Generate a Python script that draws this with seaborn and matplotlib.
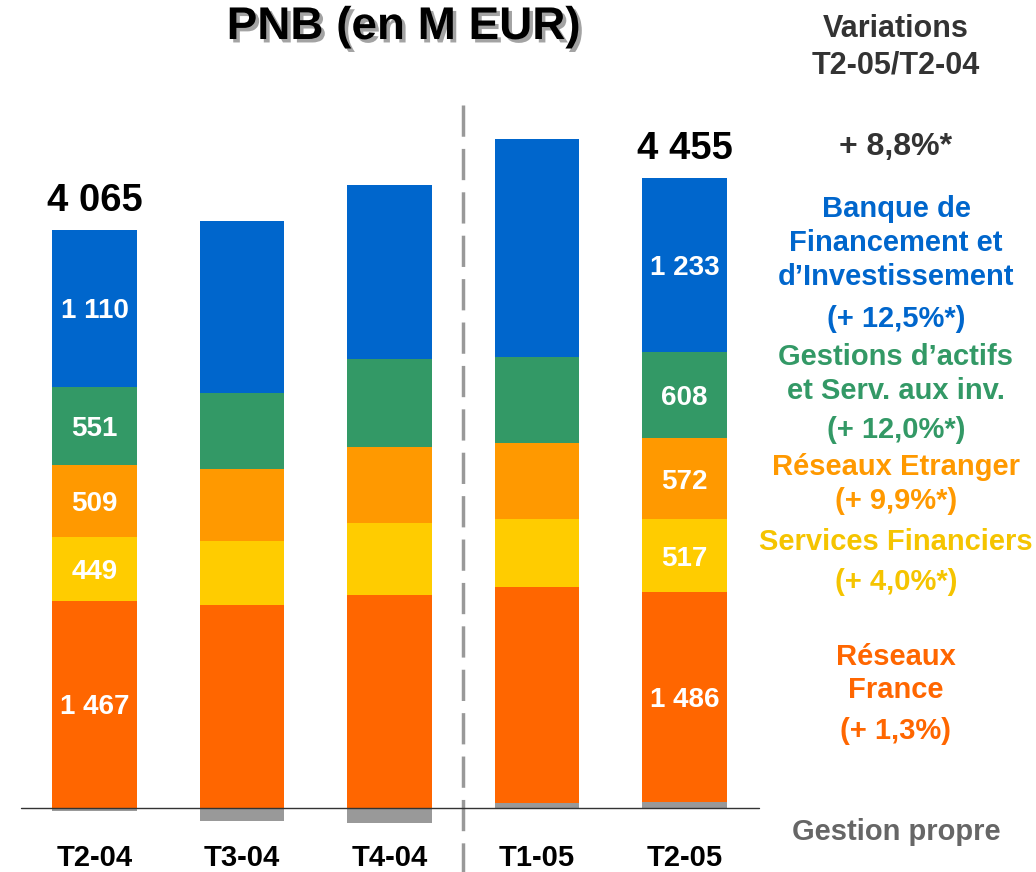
import matplotlib
matplotlib.use('Agg')
import matplotlib.pyplot as plt
import matplotlib.patheffects as pe
import pandas as pd
import seaborn as sns

# Data (M EUR)
quarters = ['T2-04', 'T3-04', 'T4-04', 'T1-05', 'T2-05']
gestion_propre = [-21, -90, -104, 33, 39]
reseaux_france = [1467, 1436, 1506, 1530, 1486]
services_financiers = [449, 453, 509, 481, 517]
reseaux_etranger = [509, 509, 537, 537, 572]
gestions_actifs = [551, 537, 622, 608, 608]
bfi = [1110, 1216, 1230, 1542, 1233]
labelled = ['T2-04', 'T2-05']

# right-hand side texts
variation_total = '+ 8,8%*'
legend_lines = [
    ('Banque de', '#0066CC'), ('Financement et', '#0066CC'), ('d\u2019Investissement', '#0066CC'),
    ('(+ 12,5%*)', '#0066CC'),
    ('Gestions d\u2019actifs', '#339966'), ('et Serv. aux inv.', '#339966'), ('(+ 12,0%*)', '#339966'),
    ('R\u00e9seaux Etranger', '#FF9900'), ('(+ 9,9%*)', '#FF9900'),
    ('Services Financiers', '#F5C400'), ('(+ 4,0%*)', '#F5C400'),
    ('R\u00e9seaux', '#FF6600'), ('France', '#FF6600'), ('(+ 1,3%)', '#FF6600'),
    ('Gestion propre', '#666666'),
]
legend_baselines = [217, 251, 285, 327, 365, 399, 438, 475, 509, 550, 590, 665, 698, 739, 840]

sns.set_style('white')
plt.rcParams['font.family'] = ['Liberation Sans', 'DejaVu Sans']
plt.rcParams['font.weight'] = 'bold'

df = pd.DataFrame({
    'trimestre': quarters,
    'Gestion propre': gestion_propre,
    'Réseaux France': reseaux_france,
    'Services Financiers': services_financiers,
    'Réseaux Etranger': reseaux_etranger,
    'Gestions d\'actifs': gestions_actifs,
    'BFI': bfi,
})
layers = ['Réseaux France', 'Services Financiers', 'Réseaux Etranger', 'Gestions d\'actifs', 'BFI']
colors = {'Réseaux France': '#FF6600', 'Services Financiers': '#FFCC00',
          'Réseaux Etranger': '#FF9900', 'Gestions d\'actifs': '#339966',
          'BFI': '#0066CC', 'Gestion propre': '#999999'}

W, H = 1036, 872
fig = plt.figure(figsize=(W / 100, H / 100), dpi=100)
ax = fig.add_axes([0, 0, 1, 1])

# pixel mapping
x0, dx = 94.5, 147.5
y0, sy = 808, 0.1414

# cumulative stacks (positive part of gestion propre sits below Réseaux France)
cum = df['Gestion propre'].clip(lower=0).astype(float)
bottoms, tops = {}, {}
for name in layers:
    bottoms[name] = cum.copy()
    cum = cum + df[name]
    tops[name] = cum.copy()

for name in reversed(layers):
    sns.barplot(x=df['trimestre'], y=tops[name], color=colors[name], width=0.576,
                saturation=1, errorbar=None, linewidth=0, ax=ax)
sns.barplot(x=df['trimestre'], y=df['Gestion propre'], color=colors['Gestion propre'],
            width=0.576, saturation=1, errorbar=None, linewidth=0, ax=ax)

# segment labels and totals for T2-04 and T2-05
for i, q in enumerate(quarters):
    if q not in labelled:
        continue
    for name in layers:
        v = df.loc[i, name]
        mid = (bottoms[name][i] + tops[name][i]) / 2
        ax.annotate(f'{v:,}'.replace(',', ' '), (i, mid), xytext=(0, -7), textcoords='offset points',
                    ha='center', va='baseline', color='white', fontsize=20, fontweight='bold')
    total = df.loc[i, layers].sum() + df.loc[i, 'Gestion propre']
    ax.annotate(f'{total:,}'.replace(',', ' '), (i, tops['BFI'][i]), xytext=(0, 14),
                textcoords='offset points', ha='center', va='baseline', color='black',
                fontsize=27.5, fontweight='bold')

# baseline and separator
ax.plot([-0.5, 4.505], [0, 0], color='#333333', lw=1, zorder=5)
ybot = -(H - y0) / sy
ax.plot([2.5, 2.5], [(y0 - 105) / sy, ybot], color='#999999', lw=2.5, dashes=(9, 3.5), zorder=1)

ax.set_xlim(-x0 / dx, (W - x0) / dx)
ax.set_ylim(ybot, y0 / sy)
ax.axis('off')

# category labels
for i, q in enumerate(quarters):
    ax.text(i, -(866 - y0) / sy, q, ha='center', va='baseline', fontsize=21,
            fontweight='bold', color='black')

def fy(y):
    return 1 - y / H

fig.text(404 / W, fy(39), 'PNB (en M EUR)', ha='center', va='baseline', fontsize=33,
         fontweight='bold', color='black',
         path_effects=[pe.withSimplePatchShadow(offset=(2.5, -2.5), shadow_rgbFace='#999999', alpha=0.9)])

xr = 896 / W
fig.text(xr, fy(37), 'Variations', ha='center', va='baseline', fontsize=22, fontweight='bold', color='#333333')
fig.text(xr, fy(73), 'T2-05/T2-04', ha='center', va='baseline', fontsize=22, fontweight='bold', color='#333333')
fig.text(xr, fy(155), variation_total, ha='center', va='baseline', fontsize=23, fontweight='bold', color='#333333')
for (txt, c), yb in zip(legend_lines, legend_baselines):
    fig.text(xr, fy(yb), txt, ha='center', va='baseline', fontsize=21, fontweight='bold', color=c)

fig.savefig('out.png', dpi=100)
